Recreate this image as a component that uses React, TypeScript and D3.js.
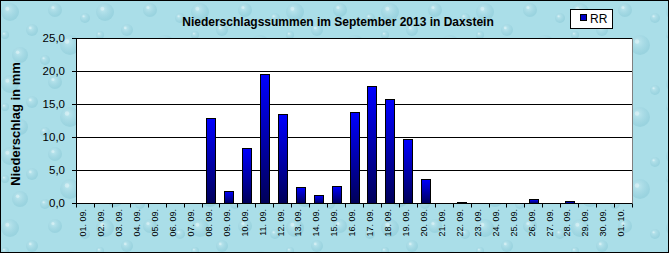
import React from "react";
import * as d3 from "d3";

const days = [
  "01. 09.", "02. 09.", "03. 09.", "04. 09.", "05. 09.", "06. 09.", "07. 09.", "08. 09.",
  "09. 09.", "10. 09.", "11. 09.", "12. 09.", "13. 09.", "14. 09.", "15. 09.", "16. 09.",
  "17. 09.", "18. 09.", "19. 09.", "20. 09.", "21. 09.", "22. 09.", "23. 09.", "24. 09.",
  "25. 09.", "26. 09.", "27. 09.", "28. 09.", "29. 09.", "30. 09.", "01. 10.",
];
const rr = [
  0, 0, 0, 0, 0, 0, 0, 12.9,
  1.8, 8.3, 19.5, 13.5, 2.4, 1.2, 2.6, 13.8,
  17.8, 15.8, 9.7, 3.6, 0, 0.2, 0, 0,
  0, 0.6, 0, 0.3, 0, 0, 0,
];
const yTicks = [0, 5, 10, 15, 20, 25];
const title = "Niederschlagssummen im September 2013 in Daxstein";
const yTitle = "Niederschlag in mm";
const seriesName = "RR";

const W = 670;
const H = 254;
const L = 76, R = 632, T = 38, B = 203;

// decorative bubble texture (style only)
const bubbles: [number, number, number][] = [
  [10, 12, 9], [32, 30, 6], [55, 10, 7], [70, 45, 10], [20, 55, 8], [45, 60, 5], [85, 18, 5], [5, 35, 4],
];

export default function App() {
  const x = d3.scaleBand<string>().domain(days).range([L, R]).paddingInner(0.5).paddingOuter(0.25);
  const y = d3.scaleLinear().domain([0, 25]).range([B, T]);
  const step = (R - L) / days.length;
  const font = "Arial, 'Liberation Sans', sans-serif";
  const crisp = (v: number) => Math.round(v) + 0.5;

  return (
    <svg width={W} height={H} style={{ position: "absolute", left: 0, top: 0 }} fontFamily={font}>
      <defs>
        <radialGradient id="bub" cx="0.4" cy="0.35" r="0.6">
          <stop offset="0" stopColor="#c8ecf2" stopOpacity="0.7" />
          <stop offset="0.6" stopColor="#9fd4e0" stopOpacity="0.5" />
          <stop offset="1" stopColor="#86c6d4" stopOpacity="0.45" />
        </radialGradient>
        <pattern id="tex" width="95" height="72" patternUnits="userSpaceOnUse">
          <rect width="95" height="72" fill="#aadeE8" />
          {bubbles.map(([cx, cy, r], i) => (
            <g key={i}>
              <circle cx={cx} cy={cy} r={r} fill="url(#bub)" />
              <circle cx={cx - r * 0.3} cy={cy - r * 0.35} r={r * 0.22} fill="#ffffff" opacity={0.35} />
            </g>
          ))}
        </pattern>
        <linearGradient id="barGrad" x1="0" y1="0" x2="0" y2="1">
          <stop offset="0" stopColor="#0000ff" />
          <stop offset="1" stopColor="#000058" />
        </linearGradient>
      </defs>

      <rect x={0} y={0} width={669} height={253} fill="url(#tex)" />
      <rect x={0.5} y={0.5} width={668} height={252} fill="none" stroke="#000" />

      {/* plot area */}
      <rect x={L} y={crisp(T) - 0.5} width={R - L} height={B - T} fill="#ffffff" />
      <path
        d={`M${L},${crisp(y(25))}H${crisp(R)}V${crisp(B)}`}
        fill="none"
        stroke="#808080"
      />
      {yTicks.filter((t) => t > 0).map((t) => (
        <line key={t} x1={L} x2={R} y1={crisp(y(t))} y2={crisp(y(t))} stroke="#000" />
      ))}

      {/* bars */}
      {days.map((d, i) =>
        rr[i] > 0 ? (
          <rect
            key={d}
            x={Math.round(x(d)!) + 0.5}
            y={Math.round(y(rr[i])) + 0.5}
            width={Math.round(x.bandwidth())}
            height={Math.max(Math.round(B - y(rr[i])), 1)}
            fill="url(#barGrad)"
            stroke="#000"
          />
        ) : null
      )}

      {/* axes */}
      <line x1={crisp(L)} x2={crisp(L)} y1={crisp(T)} y2={crisp(B) + 4} stroke="#000" />
      <line x1={L} x2={R} y1={crisp(B)} y2={crisp(B)} stroke="#000" />
      {yTicks.map((t) => (
        <g key={t}>
          <line x1={L - 4} x2={L} y1={crisp(y(t))} y2={crisp(y(t))} stroke="#000" />
          <text x={65} y={y(t)} dy="0.36em" textAnchor="end" fontSize={11.5} fill="#000">
            {d3.format(".1f")(t).replace(".", ",")}
          </text>
        </g>
      ))}
      {days.map((d, i) => {
        const bx = crisp(L + step * (i + 1));
        return <line key={"t" + d} x1={bx} x2={bx} y1={crisp(B)} y2={crisp(B) + 4} stroke="#000" />;
      })}
      {days.map((d) => {
        const cx = x(d)! + x.bandwidth() / 2 - 2;
        return (
          <text
            key={"l" + d}
            transform={`translate(${cx},${B + 6}) rotate(-90)`}
            dy="0.36em"
            textAnchor="end"
            fontSize={9}
            fill="#000"
          >
            {d}
          </text>
        );
      })}

      {/* titles */}
      <text x={338} y={26} textAnchor="middle" fontSize={12} fontWeight="bold" fill="#000">
        {title}
      </text>
      <text
        transform={`translate(20,124) rotate(-90)`}
        textAnchor="middle"
        fontSize={13}
        fontWeight="bold"
        fill="#000"
      >
        {yTitle}
      </text>

      {/* legend */}
      <rect x={570.5} y={9.5} width={42} height={19} fill="#fff" stroke="#000" />
      <rect x={580.5} y={14.5} width={6} height={6} fill="#0000c8" stroke="#000" />
      <text x={590} y={23} fontSize={12} fill="#000">{seriesName}</text>
    </svg>
  );
}
